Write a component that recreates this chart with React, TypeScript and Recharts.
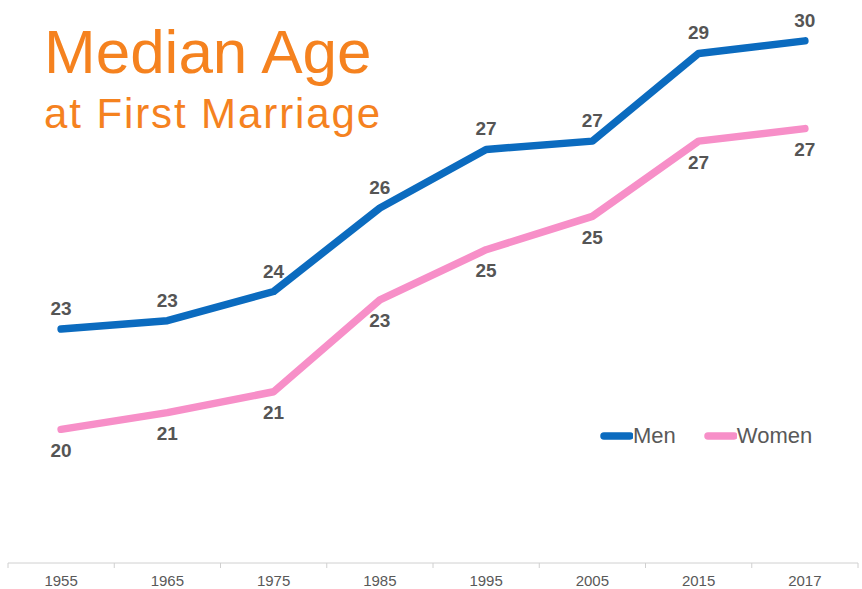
import { LineChart, Line, XAxis, YAxis, Legend, LabelList } from "recharts";

const years = ["1955", "1965", "1975", "1985", "1995", "2005", "2015", "2017"];
const men = [22.6, 22.8, 23.5, 25.5, 26.9, 27.1, 29.2, 29.5];
const women = [20.2, 20.6, 21.1, 23.3, 24.5, 25.3, 27.1, 27.4];

const data = years.map((year, i) => ({ year, men: men[i], women: women[i] }));

const W = 862;
const H = 589;
const margin = { top: 20, right: 4, left: 8, bottom: 0 };
const halfBand = (W - margin.left - margin.right) / years.length / 2;

const FONT = "'Liberation Sans', Arial, sans-serif";
const LABEL = "#555555";

function YearTick(props: any) {
  const { x, y, payload, index } = props;
  const last = index === years.length - 1;
  return (
    <g>
      <line x1={x - halfBand} x2={x - halfBand} y1={y - 8} y2={y - 3} stroke="#d0d0d0" />
      {last && <line x1={x + halfBand} x2={x + halfBand} y1={y - 8} y2={y - 3} stroke="#d0d0d0" />}
      <text
        x={x}
        y={y + 15}
        textAnchor="middle"
        fontSize={15}
        fill="#595959"
        fontFamily="'Liberation Sans Narrow', 'Liberation Sans', Arial, sans-serif"
      >
        {payload.value}
      </text>
    </g>
  );
}

function LegendBox() {
  const items = [
    { name: "Men", color: "#0b6bbf" },
    { name: "Women", color: "#f78fc8" },
  ];
  return (
    <div style={{ display: "flex", fontFamily: FONT, fontSize: 22, color: "#595959" }}>
      {items.map((it) => (
        <div key={it.name} style={{ display: "flex", alignItems: "center", marginRight: 28 }}>
          <svg width={33} height={10}>
            <line x1={4} x2={30} y1={5} y2={5} stroke={it.color} strokeWidth={7.5} strokeLinecap="round" />
          </svg>
          <span>{it.name}</span>
        </div>
      ))}
    </div>
  );
}

export default function App() {
  return (
    <div style={{ position: "absolute", left: 0, top: 0, width: W, height: H, background: "#fff" }}>
      <LineChart width={W} height={H} data={data} margin={margin}>
        <XAxis
          dataKey="year"
          axisLine={{ stroke: "#d0d0d0" }}
          tickLine={false}
          tick={<YearTick />}
          padding={{ left: halfBand, right: halfBand }}
          height={26}
          interval={0}
        />
        <YAxis hide domain={[17, 30]} />
        <Legend
          layout="horizontal"
          verticalAlign="middle"
          align="center"
          content={<LegendBox />}
          wrapperStyle={{ position: "absolute", left: 600, top: 423, width: 260 }}
        />
        <Line
          type="linear"
          dataKey="men"
          name="Men"
          stroke="#0b6bbf"
          strokeWidth={7.5}
          strokeLinecap="round"
          strokeLinejoin="round"
          dot={false}
          isAnimationActive={false}
        >
          <LabelList
            dataKey="men"
            position="top"
            offset={14}
            formatter={(v: any) => Math.round(v)}
            style={{ fontSize: 19, fontWeight: 700, fill: LABEL, fontFamily: FONT }}
          />
        </Line>
        <Line
          type="linear"
          dataKey="women"
          name="Women"
          stroke="#f78fc8"
          strokeWidth={7.5}
          strokeLinecap="round"
          strokeLinejoin="round"
          dot={false}
          isAnimationActive={false}
        >
          <LabelList
            dataKey="women"
            position="bottom"
            offset={14}
            formatter={(v: any) => Math.round(v)}
            style={{ fontSize: 19, fontWeight: 700, fill: LABEL, fontFamily: FONT }}
          />
        </Line>
      </LineChart>
      <div
        style={{
          position: "absolute",
          left: 44,
          top: 21,
          color: "#f5821f",
          fontFamily: FONT,
          lineHeight: 1,
        }}
      >
        <div style={{ fontSize: 62 }}>Median Age</div>
        <div style={{ fontSize: 42, marginTop: 10, letterSpacing: 1.9 }}>at First Marriage</div>
      </div>
    </div>
  );
}
